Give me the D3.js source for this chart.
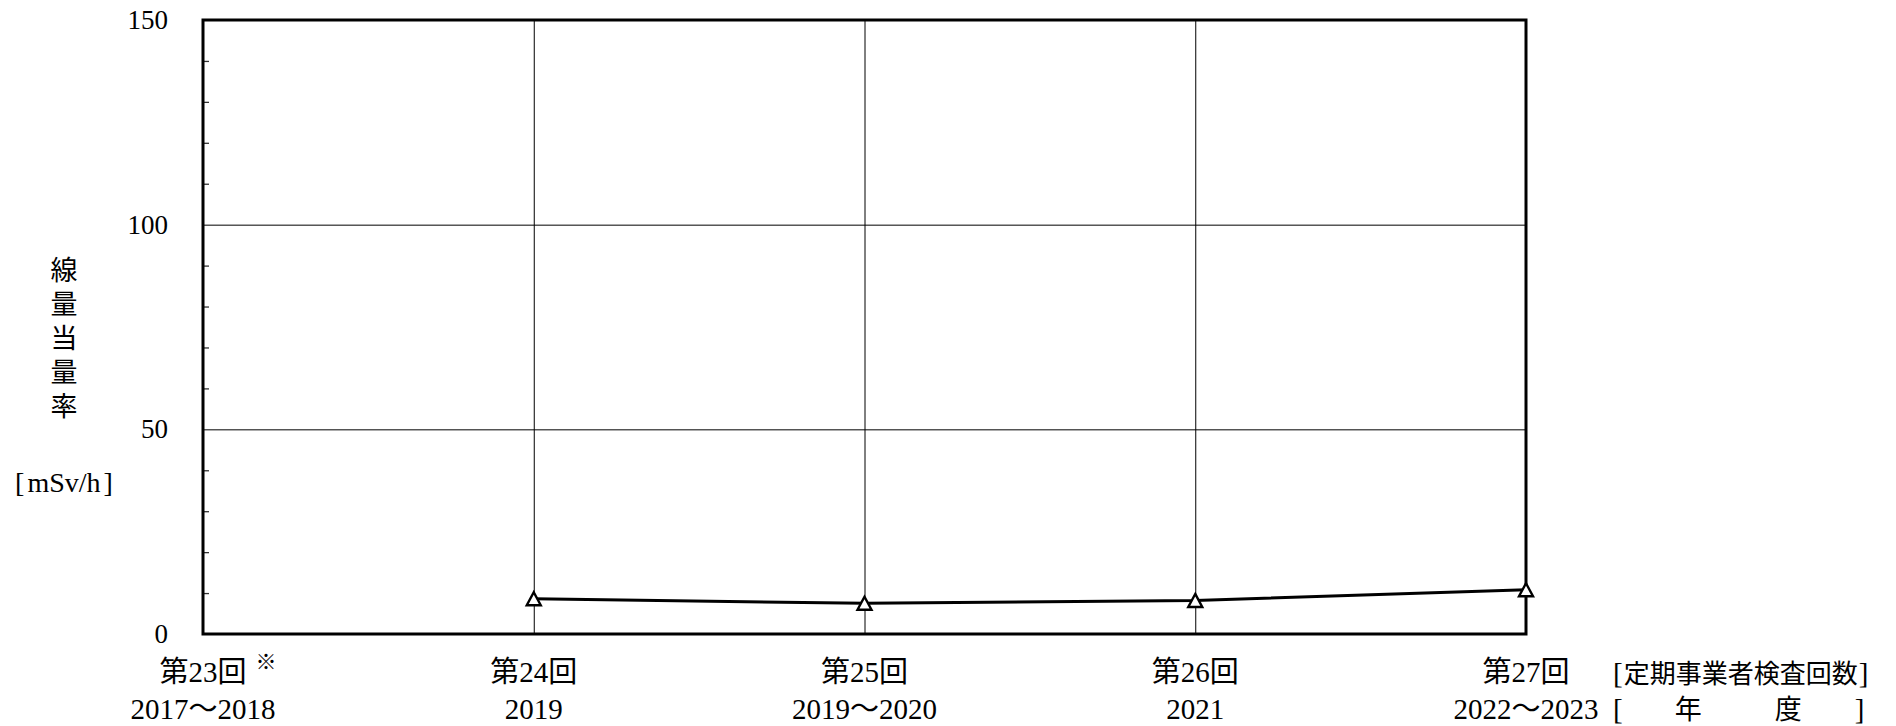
<!DOCTYPE html>
<html>
<head>
<meta charset="utf-8">
<script src="https://cdn.jsdelivr.net/npm/d3@7"></script>
<style>
  html, body { margin: 0; padding: 0; background: #fff; }
  svg { display: block; }
  text { font-family: "Liberation Serif", "Noto Sans CJK JP", serif; fill: #000; }
</style>
</head>
<body>
<script>
// ---- data ----
const categories = ["第23回", "第24回", "第25回", "第26回", "第27回"];
const years = ["2017～2018", "2019", "2019～2020", "2021", "2022～2023"];
const values = [null, 8.6, 7.5, 8.2, 10.8];
const yTicks = [0, 50, 100, 150];
const yMinorTicks = [10, 20, 30, 40, 60, 70, 80, 90, 110, 120, 130, 140];
const yTitleChars = ["線", "量", "当", "量", "率"];
const yUnitParts = ["[", "mSv/h", "]"];
const xTitle1Parts = ["[", "定期事業者検査回数", "]"];
const xTitle2Parts = ["[", "年", "度", "]"];

// ---- layout ----
const W = 1896, H = 726;
const pL = 203, pR = 1526, pT = 20, pB = 634;

const svg = d3.select("body").append("svg").attr("width", W).attr("height", H);

const x = d3.scalePoint().domain(categories).range([pL, pR]);
const y = d3.scaleLinear().domain([0, 150]).range([pB, pT]);

// horizontal gridlines
svg.append("g")
  .attr("transform", `translate(${pL},0)`)
  .call(d3.axisLeft(y).tickValues(yTicks.filter(v => v > 0 && v < 150)).tickSize(-(pR - pL)).tickFormat(""))
  .call(g => g.select(".domain").remove())
  .call(g => g.selectAll("line").attr("stroke", "#000").attr("stroke-width", 1));

// vertical gridlines
svg.append("g")
  .attr("transform", `translate(0,${pB})`)
  .call(d3.axisBottom(x).tickSize(-(pB - pT)).tickFormat(""))
  .call(g => g.select(".domain").remove())
  .call(g => g.selectAll("line").attr("stroke", "#000").attr("stroke-width", 1));

// minor ticks (inward)
svg.append("g")
  .attr("transform", `translate(${pL},0)`)
  .call(d3.axisRight(y).tickValues(yMinorTicks).tickSize(6).tickFormat(""))
  .call(g => g.select(".domain").remove())
  .call(g => g.selectAll("line").attr("stroke", "#333").attr("stroke-width", 1.3));

// y tick labels
svg.append("g")
  .attr("transform", `translate(${pL},0)`)
  .call(d3.axisLeft(y).tickValues(yTicks).tickSize(0).tickPadding(35))
  .call(g => g.select(".domain").remove())
  .call(g => g.selectAll("text")
     .style("font-family", '"Liberation Serif", serif')
     .style("font-size", "27px").attr("fill", "#000"));

// plot frame
svg.append("rect")
  .attr("x", pL).attr("y", pT)
  .attr("width", pR - pL).attr("height", pB - pT)
  .attr("fill", "none").attr("stroke", "#000").attr("stroke-width", 3);

// line
const pts = categories.map((c, i) => ({ c, v: values[i] })).filter(d => d.v != null);
svg.append("path")
  .datum(pts)
  .attr("fill", "none").attr("stroke", "#000").attr("stroke-width", 3)
  .attr("d", d3.line().x(d => x(d.c)).y(d => y(d.v)));

// triangle markers (open, bbox-centred on the point)
const triType = { draw(ctx, size) { ctx.moveTo(0, -6.5); ctx.lineTo(7, 6.5); ctx.lineTo(-7, 6.5); ctx.closePath(); } };
const tri = d3.symbol().type(triType);
svg.append("g").selectAll("path")
  .data(pts).join("path")
  .attr("d", tri)
  .attr("transform", d => `translate(${x(d.c)},${y(d.v)})`)
  .attr("fill", "#fff").attr("stroke", "#000").attr("stroke-width", 2.4);

// x category labels
const xl = svg.append("g");
categories.forEach((c, i) => {
  xl.append("text").attr("x", x(c)).attr("y", 672).attr("dy", "0.35em")
    .attr("text-anchor", "middle").style("font-size", "29px").text(c);
  xl.append("text").attr("x", x(c)).attr("y", 709).attr("dy", "0.35em")
    .attr("text-anchor", "middle").style("font-size", "29px").text(years[i]);
});
// ※ note mark on first category
xl.append("text").attr("x", 266).attr("y", 662).attr("dy", "0.35em")
  .attr("text-anchor", "middle").style("font-size", "21px").text("※");

// x axis title (right side)
const t1 = svg.append("text").attr("x", 1613).attr("y", 673).attr("dy", "0.35em")
  .style("font-size", "29px");
const t1dx = [0, 1, 1];
xTitle1Parts.forEach((p, i) => t1.append("tspan").attr("dx", t1dx[i])
  .style("font-size", i === 1 ? "26px" : null).text(p));
const t2 = svg.append("text").attr("x", 1613).attr("y", 709).attr("dy", "0.35em")
  .style("font-size", "29px");
const t2dx = [0, 52, 73, 53];
xTitle2Parts.forEach((p, i) => t2.append("tspan").attr("dx", t2dx[i])
  .style("font-size", (i === 1 || i === 2) ? "27px" : null).text(p));

// y axis title
const yt = svg.append("g");
yTitleChars.forEach((ch, i) => {
  yt.append("text").attr("x", 64).attr("y", 271 + i * 34).attr("dy", "0.35em")
    .attr("text-anchor", "middle").style("font-size", "27px").text(ch);
});
const yu = yt.append("text").attr("x", 64).attr("y", 482).attr("dy", "0.35em")
  .attr("text-anchor", "middle").style("font-size", "28px");
const yudx = [0, 3, 3];
yUnitParts.forEach((p, i) => yu.append("tspan").attr("dx", yudx[i]).text(p));
</script>
</body>
</html>
